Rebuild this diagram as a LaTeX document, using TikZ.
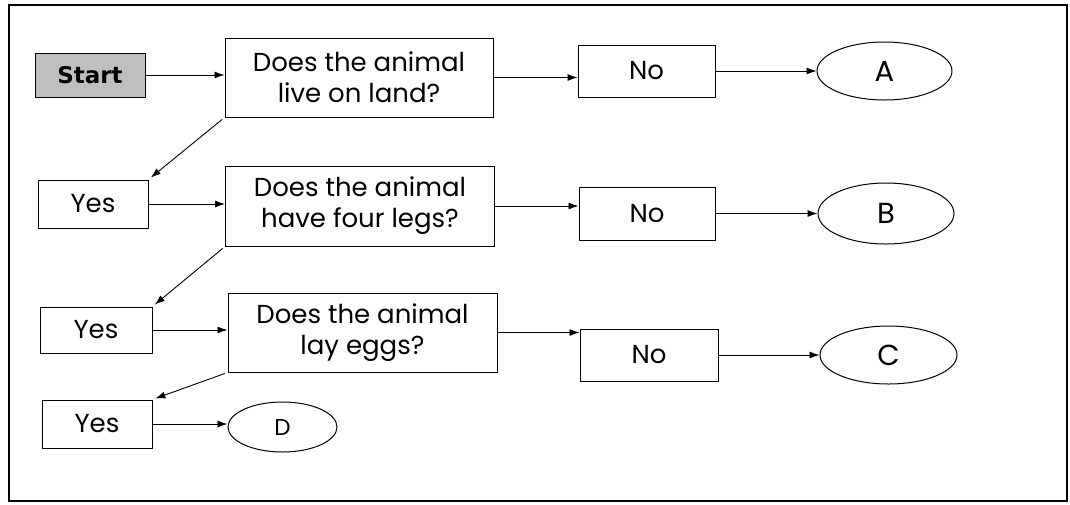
\documentclass[tikz,border=0pt]{standalone}
\usepackage{fontspec}
\setmainfont{Poppins}
\newfontfamily\startfont{DejaVu Sans}
\usetikzlibrary{arrows.meta,shapes.geometric}

\tikzset{
  box/.style={draw, line width=1pt, rectangle, inner sep=0pt, align=center,
              font=\fontsize{26}{31}\selectfont},
  endpoint/.style={draw, line width=1pt, ellipse, inner sep=0pt,
              font=\fontsize{29}{32}\selectfont},
  arr/.style={line width=0.9pt, -{Latex[length=10pt,width=7pt]}},
}

\begin{document}
\begin{tikzpicture}[x=1pt, y=-1pt]
  \useasboundingbox (0,0) rectangle (1070,504);
  % frame
  \draw[line width=1.2pt] (9,5) rectangle (1067,501);

  % row 1
  \node[box, fill=gray!50, minimum width=110pt, minimum height=44pt,
        font=\startfont\bfseries\fontsize{23}{26}\selectfont] (start) at (90,75) {Start};
  \node[box, minimum width=268pt, minimum height=79pt] (q1) at (359,77.5)
        {Does the animal\\live on land?};
  \node[box, minimum width=137pt, minimum height=52pt] (no1) at (646.5,71) {No};
  \node[endpoint, minimum width=135pt, minimum height=58pt] (A) at (884.5,71) {A};

  % row 2
  \node[box, minimum width=110pt, minimum height=48pt] (yes1) at (93,204) {Yes};
  \node[box, minimum width=269pt, minimum height=80pt] (q2) at (360,206)
        {Does the animal\\have four legs?};
  \node[box, minimum width=136pt, minimum height=53pt] (no2) at (647,213.5) {No};
  \node[endpoint, minimum width=136pt, minimum height=61pt] (B) at (886,213.5) {B};

  % row 3
  \node[box, minimum width=112pt, minimum height=46pt] (yes2) at (96,330) {Yes};
  \node[box, minimum width=269pt, minimum height=79pt] (q3) at (362.5,332.5)
        {Does the animal\\lay eggs?};
  \node[box, minimum width=138pt, minimum height=52pt] (no3) at (649,355) {No};
  \node[endpoint, minimum width=137pt, minimum height=58pt] (C) at (888.5,355) {C};

  % row 4
  \node[box, minimum width=110pt, minimum height=48pt] (yes3) at (97,424) {Yes};
  \node[endpoint, minimum width=109pt, minimum height=50pt,
        font=\fontsize{23}{26}\selectfont] (D) at (282.5,427) {D};

  % horizontal connectors
  \draw[arr] (start.east) -- (start.east -| q1.west);
  \draw[arr] (q1.east) -- (q1.east -| no1.west);
  \draw[arr] (no1.east) -- (A.west);
  \draw[arr] (yes1.east) -- (yes1.east -| q2.west);
  \draw[arr] (q2.east) -- (q2.east -| no2.west);
  \draw[arr] (no2.east) -- (B.west);
  \draw[arr] (yes2.east) -- (yes2.east -| q3.west);
  \draw[arr] (q3.east) -- (q3.east -| no3.west);
  \draw[arr] (no3.east) -- (C.west);
  \draw[arr] (yes3.east) -- (yes3.east -| D.west);

  % "yes" branches
  \draw[arr, shorten <=3pt, shorten >=3pt] (q1.south west) -- (yes1.north east);
  \draw[arr, shorten <=3pt, shorten >=3pt] (q2.south west) -- (yes2.north east);
  \draw[arr, shorten <=3pt, shorten >=3pt] (q3.south west) -- (yes3.north east);
\end{tikzpicture}
\end{document}
